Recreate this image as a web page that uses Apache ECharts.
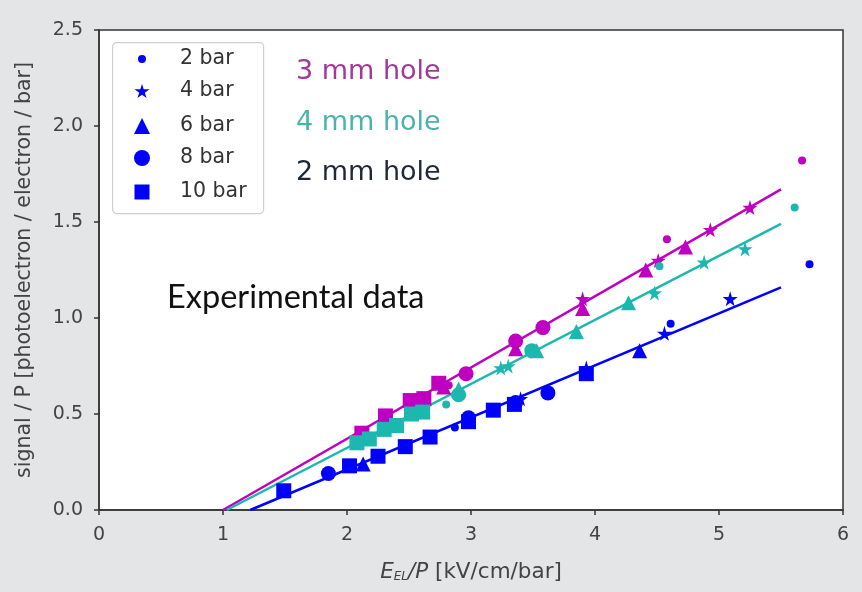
<!DOCTYPE html>
<html><head><meta charset="utf-8">
<script src="https://cdn.jsdelivr.net/npm/echarts@6/dist/echarts.min.js"></script>
<style>html,body{margin:0;padding:0;background:#e4e5e7}#c{width:862px;height:592px}</style>
</head><body><div id="c"></div>
<script>
// ---- data ----
const pressures = ['2 bar', '4 bar', '6 bar', '8 bar', '10 bar'];
const holes = ['3 mm hole', '4 mm hole', '2 mm hole'];
const xTicks = [0, 1, 2, 3, 4, 5, 6];
const yTicks = [0.0, 0.5, 1.0, 1.5, 2.0, 2.5];

// 3 mm hole (magenta)
const m2bar = [[2.82, 0.65], [4.58, 1.41], [5.67, 1.82]];
const m4bar = [[3.90, 1.10], [4.51, 1.30], [4.93, 1.46], [5.25, 1.575]];
const m6bar = [[2.78, 0.64], [3.36, 0.84], [3.90, 1.05], [4.41, 1.25], [4.73, 1.37]];
const m8bar = [[2.96, 0.71], [3.36, 0.88], [3.58, 0.95]];
const m10bar = [[2.12, 0.40], [2.31, 0.49], [2.51, 0.57], [2.62, 0.58], [2.74, 0.66]];
// 4 mm hole (cyan)
const c2bar = [[2.80, 0.55], [4.52, 1.27], [5.61, 1.575]];
const c4bar = [[3.24, 0.74], [3.30, 0.75], [4.48, 1.13], [4.88, 1.29], [5.21, 1.36]];
const c6bar = [[2.90, 0.63], [3.53, 0.83], [3.85, 0.93], [4.27, 1.08]];
const c8bar = [[2.90, 0.60], [3.49, 0.83]];
const c10bar = [[2.08, 0.35], [2.18, 0.37], [2.30, 0.42], [2.40, 0.44], [2.52, 0.50], [2.61, 0.51]];
// 2 mm hole (blue)
const b2bar = [[2.87, 0.43], [4.61, 0.97], [5.73, 1.28]];
const b4bar = [[3.40, 0.58], [3.93, 0.74], [4.56, 0.92], [5.09, 1.10]];
const b6bar = [[2.13, 0.24], [4.36, 0.83]];
const b8bar = [[1.85, 0.19], [2.98, 0.48], [3.36, 0.56], [3.62, 0.61]];
const b10bar = [[1.49, 0.10], [2.02, 0.23], [2.25, 0.28], [2.47, 0.33], [2.67, 0.38], [2.98, 0.46], [3.18, 0.52], [3.35, 0.55], [3.93, 0.71]];

// linear fits
const fit3mm = [[1.00, 0], [5.5, 1.67]];
const fit4mm = [[1.03, 0], [5.5, 1.49]];
const fit2mm = [[1.22, 0], [5.5, 1.16]];

// ---- styling ----
const colors = ['#c000c0', '#1cb8b0', '#0000ff'];
const starPath = 'path://M50,0 L61,35 L98,35 L68,57 L79,91 L50,70 L21,91 L32,57 L2,35 L39,35 Z';
const symbols = ['circle', starPath, 'triangle', 'circle', 'rect'];
const sizes = [8, 15, 15, 15, 15];
const groups = [
  [m2bar, m4bar, m6bar, m8bar, m10bar],
  [c2bar, c4bar, c6bar, c8bar, c10bar],
  [b2bar, b4bar, b6bar, b8bar, b10bar]
];
const fits = [fit3mm, fit4mm, fit2mm];

const series = [];
fits.forEach((f, gi) => {
  series.push({
    type: 'line', name: holes[gi] + ' fit', data: f, showSymbol: false, symbol: 'none',
    lineStyle: {color: colors[gi], width: 2.5}, z: 1, silent: true
  });
});
groups.forEach((g, gi) => {
  g.forEach((d, pi) => {
    series.push({
      type: 'scatter',
      name: gi === 2 ? pressures[pi] : pressures[pi] + ' (' + holes[gi] + ')',
      data: d, symbol: symbols[pi], symbolSize: sizes[pi],
      itemStyle: {color: colors[gi], opacity: 1}, z: 2
    });
  });
});

const legendRows = [59, 91, 126, 158, 192];
const legendSizes = [8, 15, 16, 16, 15];
const iconCenterX = 142, textX = 180;
const legends = pressures.map((p, i) => {
  const w = legendSizes[i];
  return {
    data: [{name: p}], left: iconCenterX - w / 2, top: legendRows[i] - 12, padding: 0,
    itemWidth: w, itemHeight: w, selectedMode: false, z: 6,
    textStyle: {fontFamily: 'DejaVu Sans', fontSize: 20.5, color: '#333', lineHeight: 24,
                padding: [0, 0, 0, textX - (iconCenterX + w / 2) - 5]}
  };
});

const axisFont = {fontFamily: 'DejaVu Sans', fontSize: 19, color: '#444'};

const chart = echarts.init(document.getElementById('c'), null, {renderer: 'canvas'});
chart.setOption({
  animation: false,
  backgroundColor: '#e4e5e7',
  grid: {left: 99, right: 19, top: 30, bottom: 82, show: true, backgroundColor: '#ffffff',
         borderColor: '#333', borderWidth: 1.5},
  legend: legends,
  xAxis: {
    type: 'value', min: xTicks[0], max: xTicks[xTicks.length - 1], interval: 1,
    axisLine: {show: true, lineStyle: {color: '#333', width: 1.5}},
    axisTick: {show: true, length: 5, lineStyle: {color: '#333', width: 1.5}},
    splitLine: {show: false},
    axisLabel: Object.assign({margin: 16}, axisFont),
    name: '{i|E}{s|EL}{i|/P} [kV/cm/bar]', nameLocation: 'middle', nameGap: 51,
    nameTextStyle: Object.assign({}, axisFont, {
      fontSize: 21.5,
      rich: {
        i: {fontFamily: 'DejaVu Sans', fontSize: 21.5, color: '#444', fontStyle: 'italic'},
        s: {fontFamily: 'DejaVu Sans', fontSize: 12, color: '#444', fontStyle: 'italic', padding: [10, 0, 0, 0]}
      }
    })
  },
  yAxis: {
    type: 'value', min: yTicks[0], max: yTicks[yTicks.length - 1], interval: 0.5,
    axisLine: {show: true, lineStyle: {color: '#333', width: 1.5}},
    axisTick: {show: true, length: 5, lineStyle: {color: '#333', width: 1.5}},
    splitLine: {show: false},
    axisLabel: Object.assign({margin: 16, formatter: v => v.toFixed(1)}, axisFont),
    name: 'signal / P [photoelectron / electron / bar]', nameLocation: 'middle', nameGap: 64,
    nameTextStyle: Object.assign({}, axisFont, {fontSize: 20.5})
  },
  graphic: [
    {type: 'rect', left: 112, top: 42, z: 3, shape: {width: 151, height: 171, r: 4},
     style: {fill: 'rgba(255,255,255,0.85)', stroke: '#cfcfcf', lineWidth: 1.2}},
    {type: 'text', left: 296, top: 58, z: 5, style: {text: holes[0], fill: '#a3379c', font: '27px "DejaVu Sans"'}},
    {type: 'text', left: 296, top: 109, z: 5, style: {text: holes[1], fill: '#4bb3ab', font: '27px "DejaVu Sans"'}},
    {type: 'text', left: 296, top: 159, z: 5, style: {text: holes[2], fill: '#1e2838', font: '27px "DejaVu Sans"'}},
    {type: 'text', left: 167, top: 281, z: 5, style: {text: 'Experimental data', fill: '#111', font: '32.5px Lato'}}
  ],
  series: series
});
</script></body></html>
